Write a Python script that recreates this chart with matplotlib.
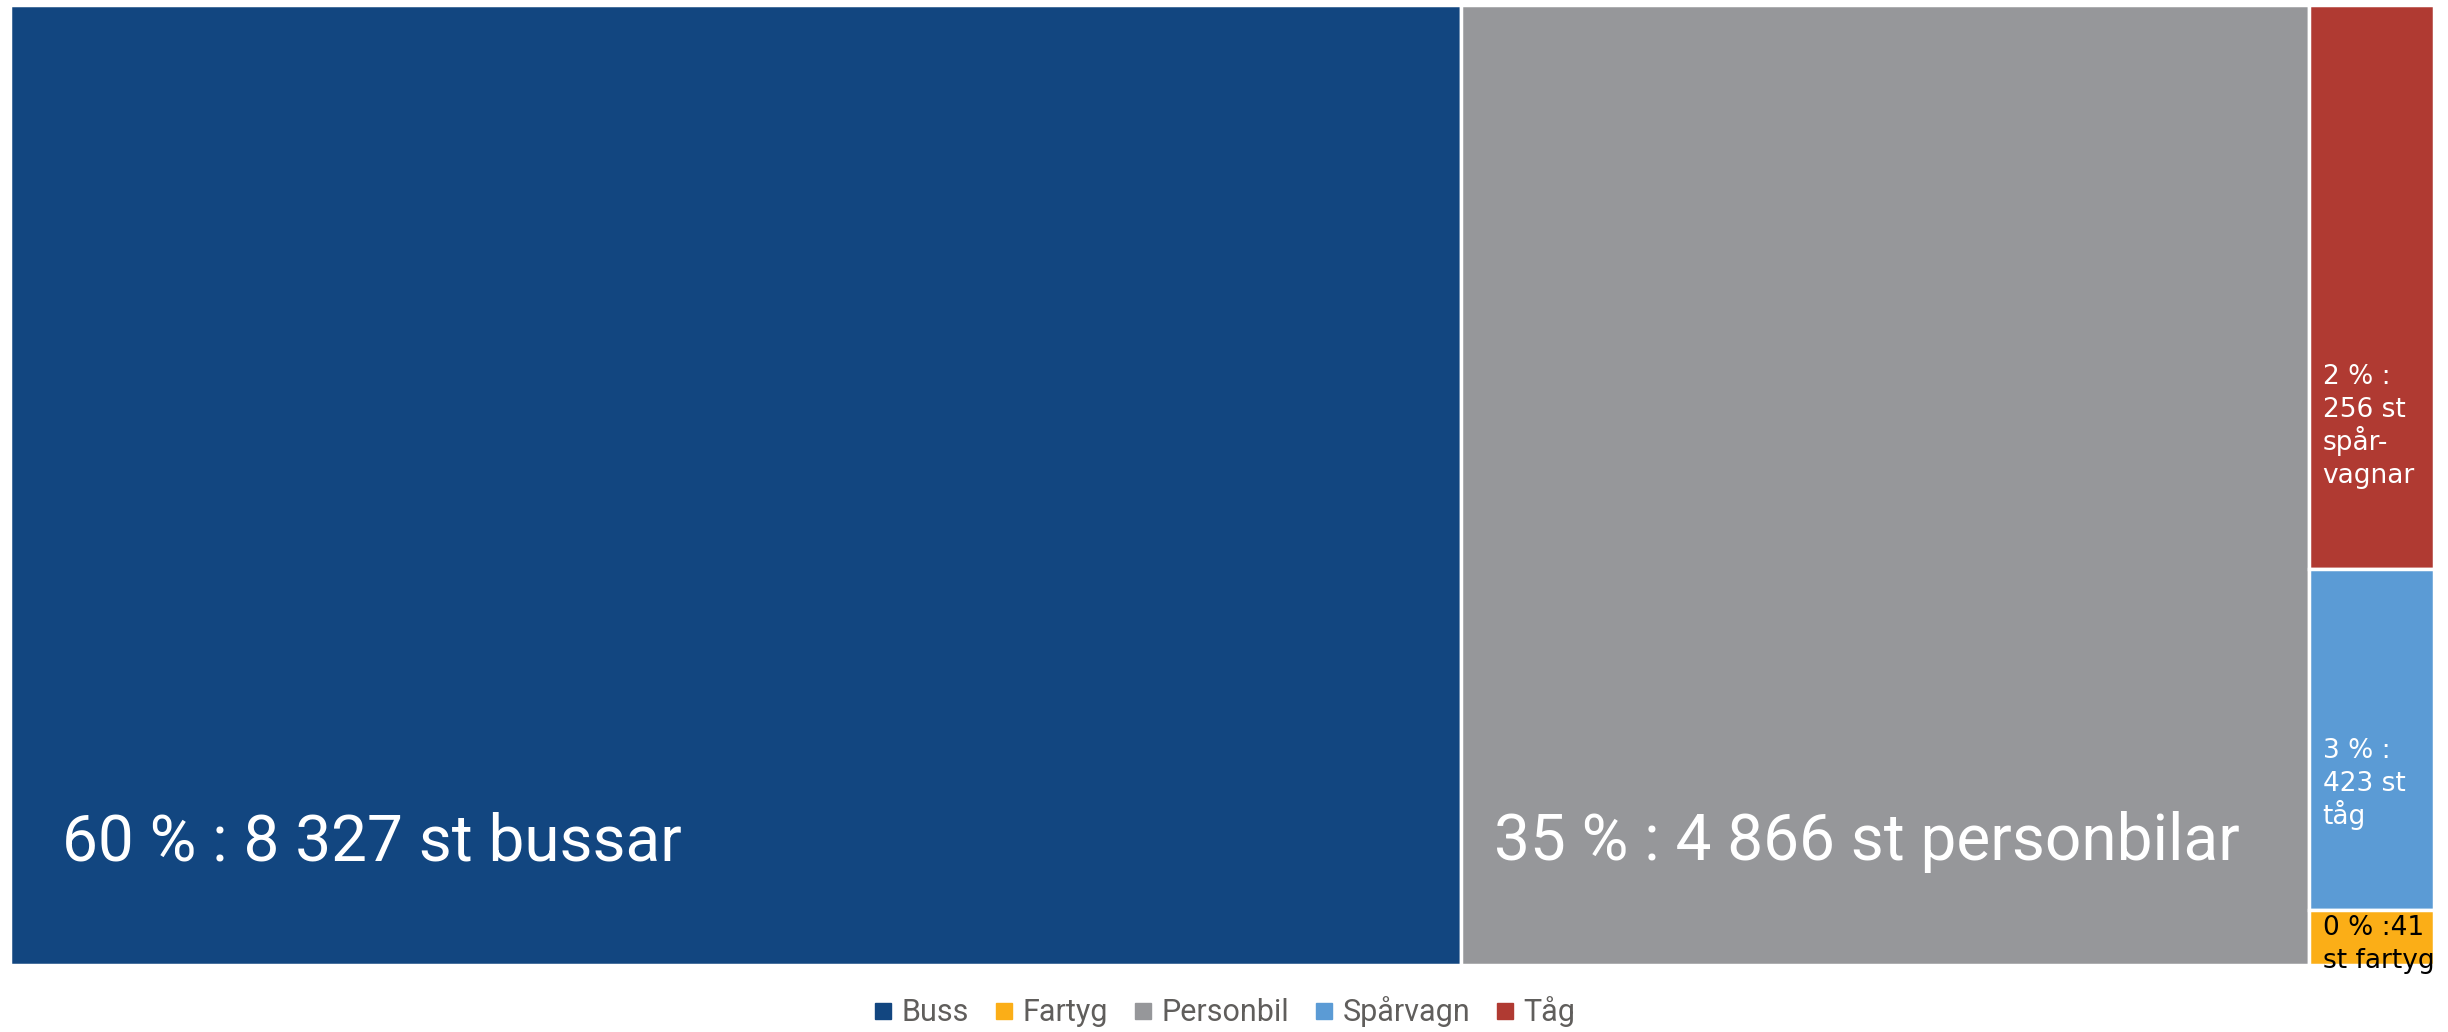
"""Treemap: fordon per trafikslag (andel och antal)."""

import matplotlib
matplotlib.use("Agg")
import matplotlib.pyplot as plt
from matplotlib.patches import Rectangle
from matplotlib.lines import Line2D

# ---------------------------------------------------------------------------
# Data
# ---------------------------------------------------------------------------
categories = ["Buss", "Personbil", "Tåg", "Spårvagn", "Fartyg"]
counts = [8327, 4866, 423, 256, 41]
labels = [
    "60 % : 8 327 st bussar",
    "35 % : 4 866 st personbilar",
    "2 % :\n256 st\nspår-\nvagnar",
    "3 % :\n423 st\ntåg",
    "0 % :41\nst fartyg",
]
legend_order = ["Buss", "Fartyg", "Personbil", "Spårvagn", "Tåg"]

colors = {
    "Buss": "#124680",
    "Fartyg": "#FBAE17",
    "Personbil": "#96979A",
    "Spårvagn": "#5B9BD5",
    "Tåg": "#B03A32",
}
text_colors = {"Fartyg": "black"}
label_pad_x = {"Buss": 52, "Personbil": 33}

W, H = 2448, 1032
SANS = ["Roboto", "DejaVu Sans"]


def _worst(row, side):
    s = sum(row)
    return max(max(side * side * r / (s * s), s * s / (side * side * r))
               for r in row)


def squarify(values, x, y, w, h):
    total = float(sum(values))
    areas = [v * w * h / total for v in values]
    rects = []
    while areas:
        side = min(w, h)
        row = [areas[0]]
        i = 1
        while i < len(areas) and _worst(row + [areas[i]], side) <= _worst(row, side):
            row.append(areas[i])
            i += 1
        s = sum(row)
        if w >= h:
            cw = s / h
            yy = y
            for a in row:
                rects.append((x, yy, cw, a / cw))
                yy += a / cw
            x += cw
            w -= cw
        else:
            rh = s / w
            xx = x
            for a in row:
                rects.append((xx, y, a / rh, rh))
                xx += a / rh
            y += rh
            h -= rh
        areas = areas[i:]
    return rects


fig = plt.figure(figsize=(W / 100, H / 100), dpi=100)
ax = fig.add_axes([0, 0, 1, 1])
ax.set_xlim(0, W)
ax.set_ylim(H, 0)
ax.axis("off")

rects = squarify(counts, 10, 5, 2424, 960)
for cat, lab, (rx, ry, rw, rh) in zip(categories, labels, rects):
    ax.add_patch(Rectangle((rx, ry), rw, rh, facecolor=colors[cat],
                           edgecolor="white", linewidth=2.5))
    lines = lab.split("\n")
    big = rw > 500
    fs = 46 if big else 19
    lh = 33
    pad_x = label_pad_x.get(cat, 14)
    pad_y = 105 if big else 86
    tc = text_colors.get(cat, "white")
    first = ry + rh - pad_y - (len(lines) - 1) * lh
    if first < ry + 20:
        first = ry + 25
    for i, line in enumerate(lines):
        ax.text(rx + pad_x, first + i * lh, line, ha="left", va="baseline",
                fontsize=fs, color=tc,
                family=SANS if big else ["DejaVu Sans"])

handles = [Line2D([], [], marker="s", linestyle="none", markersize=11,
                  markerfacecolor=colors[c], markeredgecolor=colors[c])
           for c in legend_order]
fig.legend(handles, legend_order, loc="center", ncol=5,
           bbox_to_anchor=(0.5, 1 - 1012 / H), frameon=False,
           prop={"family": SANS, "size": 22}, labelcolor="#605E5C",
           handletextpad=0.25, columnspacing=0.8, handlelength=0.7)

fig.savefig("out.png", dpi=100, facecolor="white")
